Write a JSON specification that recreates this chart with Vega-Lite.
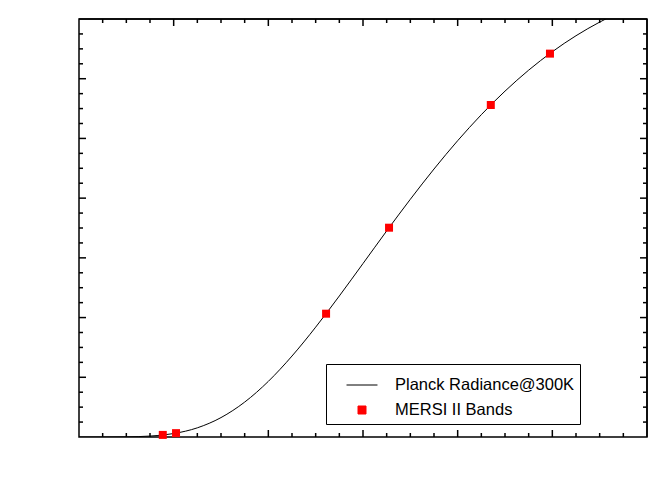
{
  "$schema": "https://vega.github.io/schema/vega-lite/v6.json",
  "autosize": {"type": "none"},
  "width": 568,
  "height": 418,
  "padding": {"left": 79, "top": 19, "right": 9, "bottom": 52},
  "background": "white",
  "config": {
    "font": "Liberation Sans",
    "view": {"stroke": "black", "strokeWidth": 1.5},
    "axis": {
      "labelFont": "Liberation Sans",
      "titleFont": "Liberation Sans",
      "labelFontSize": 17,
      "titleFontSize": 18,
      "titleFontWeight": "normal",
      "labelColor": "black",
      "titleColor": "black",
      "domainColor": "black",
      "domainWidth": 1.5,
      "labelFlush": false,
      "labelOverlap": false
    }
  },
  "datasets": {
    "curve": [
      {"wavelength": 2.0, "radiance": 0.0},
      {"wavelength": 2.5, "radiance": 0.004},
      {"wavelength": 3.0, "radiance": 0.05},
      {"wavelength": 3.5, "radiance": 0.31},
      {"wavelength": 3.8, "radiance": 0.72},
      {"wavelength": 4.0, "radiance": 1.16},
      {"wavelength": 4.5, "radiance": 3.07},
      {"wavelength": 5.0, "radiance": 6.5},
      {"wavelength": 5.5, "radiance": 11.69},
      {"wavelength": 6.0, "radiance": 18.63},
      {"wavelength": 6.5, "radiance": 27.12},
      {"wavelength": 7.0, "radiance": 36.79},
      {"wavelength": 7.5, "radiance": 47.24},
      {"wavelength": 8.0, "radiance": 58.1},
      {"wavelength": 8.5, "radiance": 69.01},
      {"wavelength": 9.0, "radiance": 79.62},
      {"wavelength": 9.5, "radiance": 89.76},
      {"wavelength": 10.0, "radiance": 99.24},
      {"wavelength": 10.5, "radiance": 107.96},
      {"wavelength": 11.0, "radiance": 115.84},
      {"wavelength": 11.5, "radiance": 122.87},
      {"wavelength": 12.0, "radiance": 129.04},
      {"wavelength": 12.5, "radiance": 134.4},
      {"wavelength": 13.0, "radiance": 138.96},
      {"wavelength": 13.2, "radiance": 140.58}
    ],
    "bands": [
      {"wavelength": 3.77, "radiance": 0.7},
      {"wavelength": 4.05, "radiance": 1.29},
      {"wavelength": 7.22, "radiance": 41.3},
      {"wavelength": 8.55, "radiance": 70.1},
      {"wavelength": 10.7, "radiance": 111.2},
      {"wavelength": 11.95, "radiance": 128.4}
    ],
    "xmajor": [{"value": 4}, {"value": 6}, {"value": 8}, {"value": 10}, {"value": 12}],
    "xminor": [
      {"value": 2.5}, {"value": 3}, {"value": 3.5}, {"value": 4.5}, {"value": 5}, {"value": 5.5},
      {"value": 6.5}, {"value": 7}, {"value": 7.5}, {"value": 8.5}, {"value": 9}, {"value": 9.5},
      {"value": 10.5}, {"value": 11}, {"value": 11.5}, {"value": 12.5}, {"value": 13}, {"value": 13.5}
    ],
    "ymajor": [{"value": 20}, {"value": 40}, {"value": 60}, {"value": 80}, {"value": 100}, {"value": 120}],
    "yminor": [
      {"value": 5}, {"value": 10}, {"value": 15}, {"value": 25}, {"value": 30}, {"value": 35},
      {"value": 45}, {"value": 50}, {"value": 55}, {"value": 65}, {"value": 70}, {"value": 75},
      {"value": 85}, {"value": 90}, {"value": 95}, {"value": 105}, {"value": 110}, {"value": 115},
      {"value": 125}, {"value": 130}, {"value": 135}
    ]
  },
  "layer": [
    {
      "data": {"name": "curve"},
      "mark": {"type": "line", "color": "black", "strokeWidth": 1, "clip": true, "interpolate": "monotone"},
      "encoding": {
        "x": {
          "field": "wavelength", "type": "quantitative",
          "scale": {"domain": [2, 14], "nice": false, "zero": false},
          "axis": {"orient": "bottom", "values": [2, 4, 6, 8, 10, 12, 14], "grid": true, "gridColor": "#4b4be6", "gridDash": [1, 3], "gridWidth": 1, "ticks": false, "labelPadding": 7, "title": "Wavelength / um", "titlePadding": 4}
        },
        "y": {
          "field": "radiance", "type": "quantitative",
          "scale": {"domain": [0, 140], "nice": false},
          "axis": {"orient": "left", "values": [0, 20, 40, 60, 80, 100, 120, 140], "grid": true, "gridColor": "#4b4be6", "gridDash": [1, 3], "gridWidth": 1, "ticks": false, "labelPadding": 9, "title": "Planck Radiance@300K / mW/(m² cm⁻¹ sr)", "titlePadding": 8}
        },
        "color": {
          "datum": "Planck Radiance@300K",
          "type": "nominal",
          "scale": {"domain": ["Planck Radiance@300K", "MERSI II Bands"], "range": ["black", "#ff0000"]},
          "legend": {
            "orient": "none", "legendX": 247, "legendY": 345, "title": null,
            "strokeColor": "black", "fillColor": "white", "padding": 5,
            "labelFont": "Liberation Sans", "labelFontSize": 16.5, "labelColor": "black", "labelLimit": 400,
            "labelExpr": "datum.label + '\u00a0\u00a0\u00a0\u00a0\u00a0\u00a0\u00a0\u00a0\u00a0\u00a0\u00a0\u00a0\u00a0\u00a0'",
            "symbolType": "stroke", "symbolSize": 64, "symbolStrokeWidth": 1, "symbolOffset": 15,
            "rowPadding": -4, "labelOffset": 17,
            "encoding": {
              "symbols": {
                "shape": {"value": {"expr": "datum.value === 'MERSI II Bands' ? 'square' : 'stroke'"}},
                "size": {"value": {"expr": "datum.value === 'MERSI II Bands' ? 64 : 958"}},
                "fill": {"value": {"expr": "datum.value === 'MERSI II Bands' ? '#ff0000' : 'transparent'"}},
                "stroke": {"value": {"expr": "datum.value === 'MERSI II Bands' ? '#ff0000' : 'black'"}}
              }
            }
          }
        }
      }
    },
    {
      "data": {"name": "xmajor"},
      "mark": {"type": "rule", "color": "black", "strokeWidth": 1.5},
      "encoding": {
        "x": {"field": "value", "type": "quantitative", "axis": null},
        "y": {"datum": 0, "type": "quantitative", "axis": null},
        "y2": {"datum": 2.34}
      }
    },
    {
      "data": {"name": "xmajor"},
      "mark": {"type": "rule", "color": "black", "strokeWidth": 1.5},
      "encoding": {
        "x": {"field": "value", "type": "quantitative", "axis": null},
        "y": {"datum": 140, "type": "quantitative", "axis": null},
        "y2": {"datum": 137.66}
      }
    },
    {
      "data": {"name": "xminor"},
      "mark": {"type": "rule", "color": "black", "strokeWidth": 1.5},
      "encoding": {
        "x": {"field": "value", "type": "quantitative", "axis": null},
        "y": {"datum": 0, "type": "quantitative", "axis": null},
        "y2": {"datum": 1.34}
      }
    },
    {
      "data": {"name": "xminor"},
      "mark": {"type": "rule", "color": "black", "strokeWidth": 1.5},
      "encoding": {
        "x": {"field": "value", "type": "quantitative", "axis": null},
        "y": {"datum": 140, "type": "quantitative", "axis": null},
        "y2": {"datum": 138.66}
      }
    },
    {
      "data": {"name": "ymajor"},
      "mark": {"type": "rule", "color": "black", "strokeWidth": 1.5},
      "encoding": {
        "y": {"field": "value", "type": "quantitative", "axis": null},
        "x": {"datum": 2, "type": "quantitative", "axis": null},
        "x2": {"datum": 2.148}
      }
    },
    {
      "data": {"name": "ymajor"},
      "mark": {"type": "rule", "color": "black", "strokeWidth": 1.5},
      "encoding": {
        "y": {"field": "value", "type": "quantitative", "axis": null},
        "x": {"datum": 14, "type": "quantitative", "axis": null},
        "x2": {"datum": 13.852}
      }
    },
    {
      "data": {"name": "yminor"},
      "mark": {"type": "rule", "color": "black", "strokeWidth": 1.5},
      "encoding": {
        "y": {"field": "value", "type": "quantitative", "axis": null},
        "x": {"datum": 2, "type": "quantitative", "axis": null},
        "x2": {"datum": 2.085}
      }
    },
    {
      "data": {"name": "yminor"},
      "mark": {"type": "rule", "color": "black", "strokeWidth": 1.5},
      "encoding": {
        "y": {"field": "value", "type": "quantitative", "axis": null},
        "x": {"datum": 14, "type": "quantitative", "axis": null},
        "x2": {"datum": 13.915}
      }
    },
    {
      "data": {"values": [{}]},
      "mark": {"type": "rule", "color": "black", "strokeWidth": 1.5},
      "encoding": {
        "x": {"datum": 2, "type": "quantitative", "axis": null},
        "x2": {"datum": 14},
        "y": {"datum": 140, "type": "quantitative", "axis": null}
      }
    },
    {
      "data": {"values": [{}]},
      "mark": {"type": "rule", "color": "black", "strokeWidth": 1.5},
      "encoding": {
        "x": {"datum": 14, "type": "quantitative", "axis": null},
        "y": {"datum": 0, "type": "quantitative", "axis": null},
        "y2": {"datum": 140}
      }
    },
    {
      "data": {"name": "bands"},
      "mark": {"type": "square", "size": 64, "opacity": 1},
      "encoding": {
        "x": {"field": "wavelength", "type": "quantitative", "axis": null},
        "y": {"field": "radiance", "type": "quantitative", "axis": null},
        "color": {"datum": "MERSI II Bands", "type": "nominal"}
      }
    }
  ]
}
